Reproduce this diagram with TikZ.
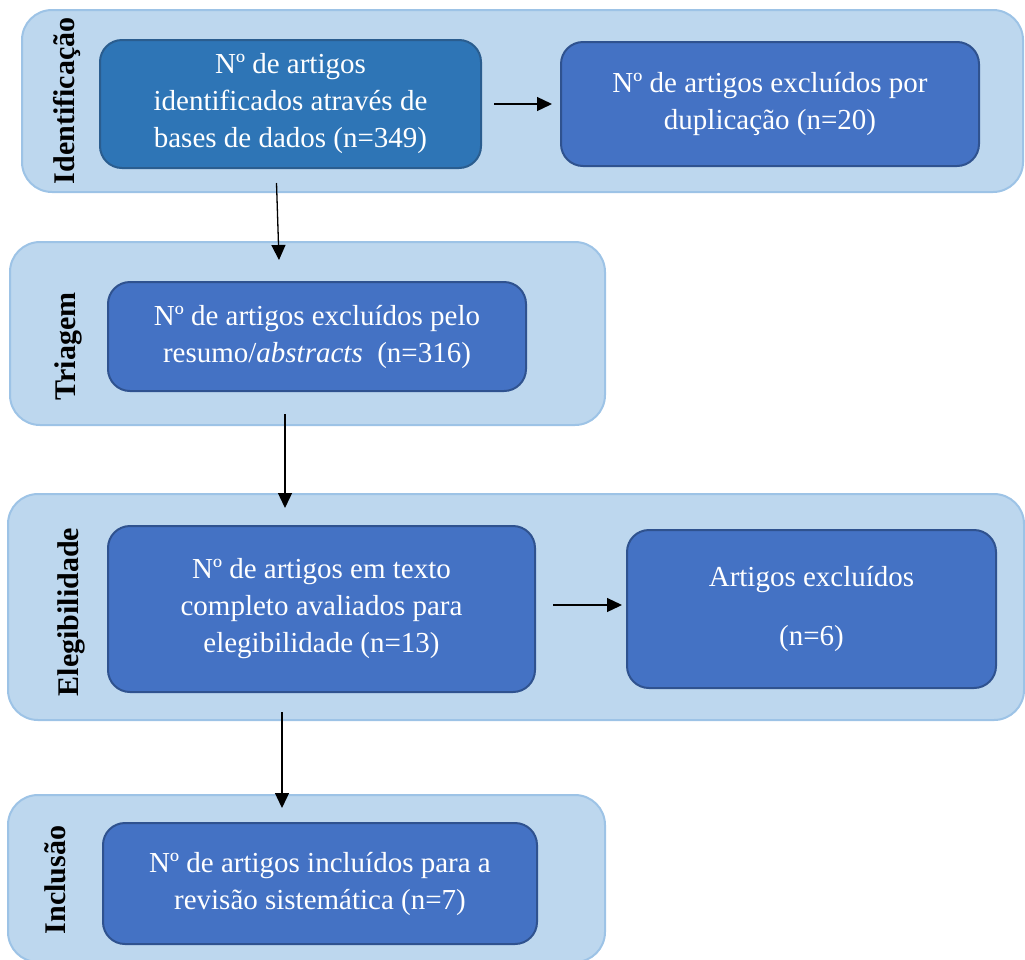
\documentclass[tikz,border=0pt]{standalone}
\usepackage{fontspec}
\setmainfont{Liberation Serif}
\usetikzlibrary{arrows.meta}
\definecolor{outerfill}{HTML}{BDD7EE}
\definecolor{outerline}{HTML}{9DC3E6}
\definecolor{boxfill}{HTML}{4472C4}
\definecolor{boxline}{HTML}{2F528F}
\definecolor{firstfill}{HTML}{2E75B6}
\definecolor{firstline}{HTML}{2A5D8F}
\begin{document}
\begin{tikzpicture}[x=1pt,y=-1pt,
  stage/.style={rectangle, draw=outerline, fill=outerfill, line width=2pt, rounded corners=30pt, inner sep=0pt},
  stepbox/.style={rectangle, draw=boxline, fill=boxfill, line width=2pt, rounded corners=22pt, inner sep=0pt,
     text=white, align=center, font=\fontsize{29}{37}\selectfont},
  firstbox/.style={stepbox, draw=firstline, fill=firstfill},
  lab/.style={rotate=90, anchor=base, font=\fontsize{30}{36}\selectfont\bfseries, text=black, inner sep=0pt},
  conn/.style={line width=1.3pt, -{Triangle[width=14pt,length=15pt]}}]
\useasboundingbox (0,0) rectangle (1025,959);
\clip (0,0) rectangle (1025,959);
% stages
\node[stage, minimum width=1001pt, minimum height=182pt] (O1) at (522.5,101) {};
\node[stage, minimum width=595pt, minimum height=183pt] (O2) at (307.5,333.5) {};
\node[stage, minimum width=1016pt, minimum height=226pt] (O3) at (516,607) {};
\node[stage, minimum width=597pt, minimum height=167pt] (O4) at (306.5,878.5) {};
% labels
\node[lab] (L1) at (74,101) {Identificação};
\node[lab] (L2) at (75,346.5) {Triagem};
\node[lab] (L3) at (78,612) {Elegibilidade};
\node[lab] (L4) at (65,880) {Inclusão};
% boxes
\node[firstbox, minimum width=381pt, minimum height=128pt] (A) at (290.5,104)
  {Nº de artigos\\identificados através de\\bases de dados (n=349)};
\node[stepbox, minimum width=418pt, minimum height=124pt] (B) at (770,104)
  {Nº de artigos excluídos por\\duplicação (n=20)};
\node[stepbox, minimum width=418pt, minimum height=109pt] (C) at (317,336.5)
  {Nº de artigos excluídos pelo\\resumo/\textit{abstracts}\ \ (n=316)};
\node[stepbox, minimum width=427pt, minimum height=166pt] (D) at (321.5,609)
  {Nº de artigos em texto\\completo avaliados para\\elegibilidade (n=13)};
\node[stepbox, minimum width=369pt, minimum height=158pt] (E) at (811.5,609)
  {Artigos excluídos\\[22pt](n=6)};
\node[stepbox, minimum width=434pt, minimum height=121pt] (F) at (320,883.5)
  {Nº de artigos incluídos para a\\revisão sistemática (n=7)};
% connectors
\coordinate (a2s) at (276.5,183);
\coordinate (a2e) at (279,260);
\coordinate (a3s) at (285,414);
\coordinate (a3e) at (285,508);
\coordinate (a4s) at (553,605);
\coordinate (a4e) at (622,605);
\coordinate (a5s) at (282,712);
\coordinate (a5e) at (282,808);
\draw[conn, shorten <=12pt, shorten >=8pt] (A.east) -- (B.west);
\draw[conn] (a2s) -- (a2e);
\draw[conn] (a3s) -- (a3e);
\draw[conn] (a4s) -- (a4e);
\draw[conn] (a5s) -- (a5e);
\end{tikzpicture}
\end{document}
